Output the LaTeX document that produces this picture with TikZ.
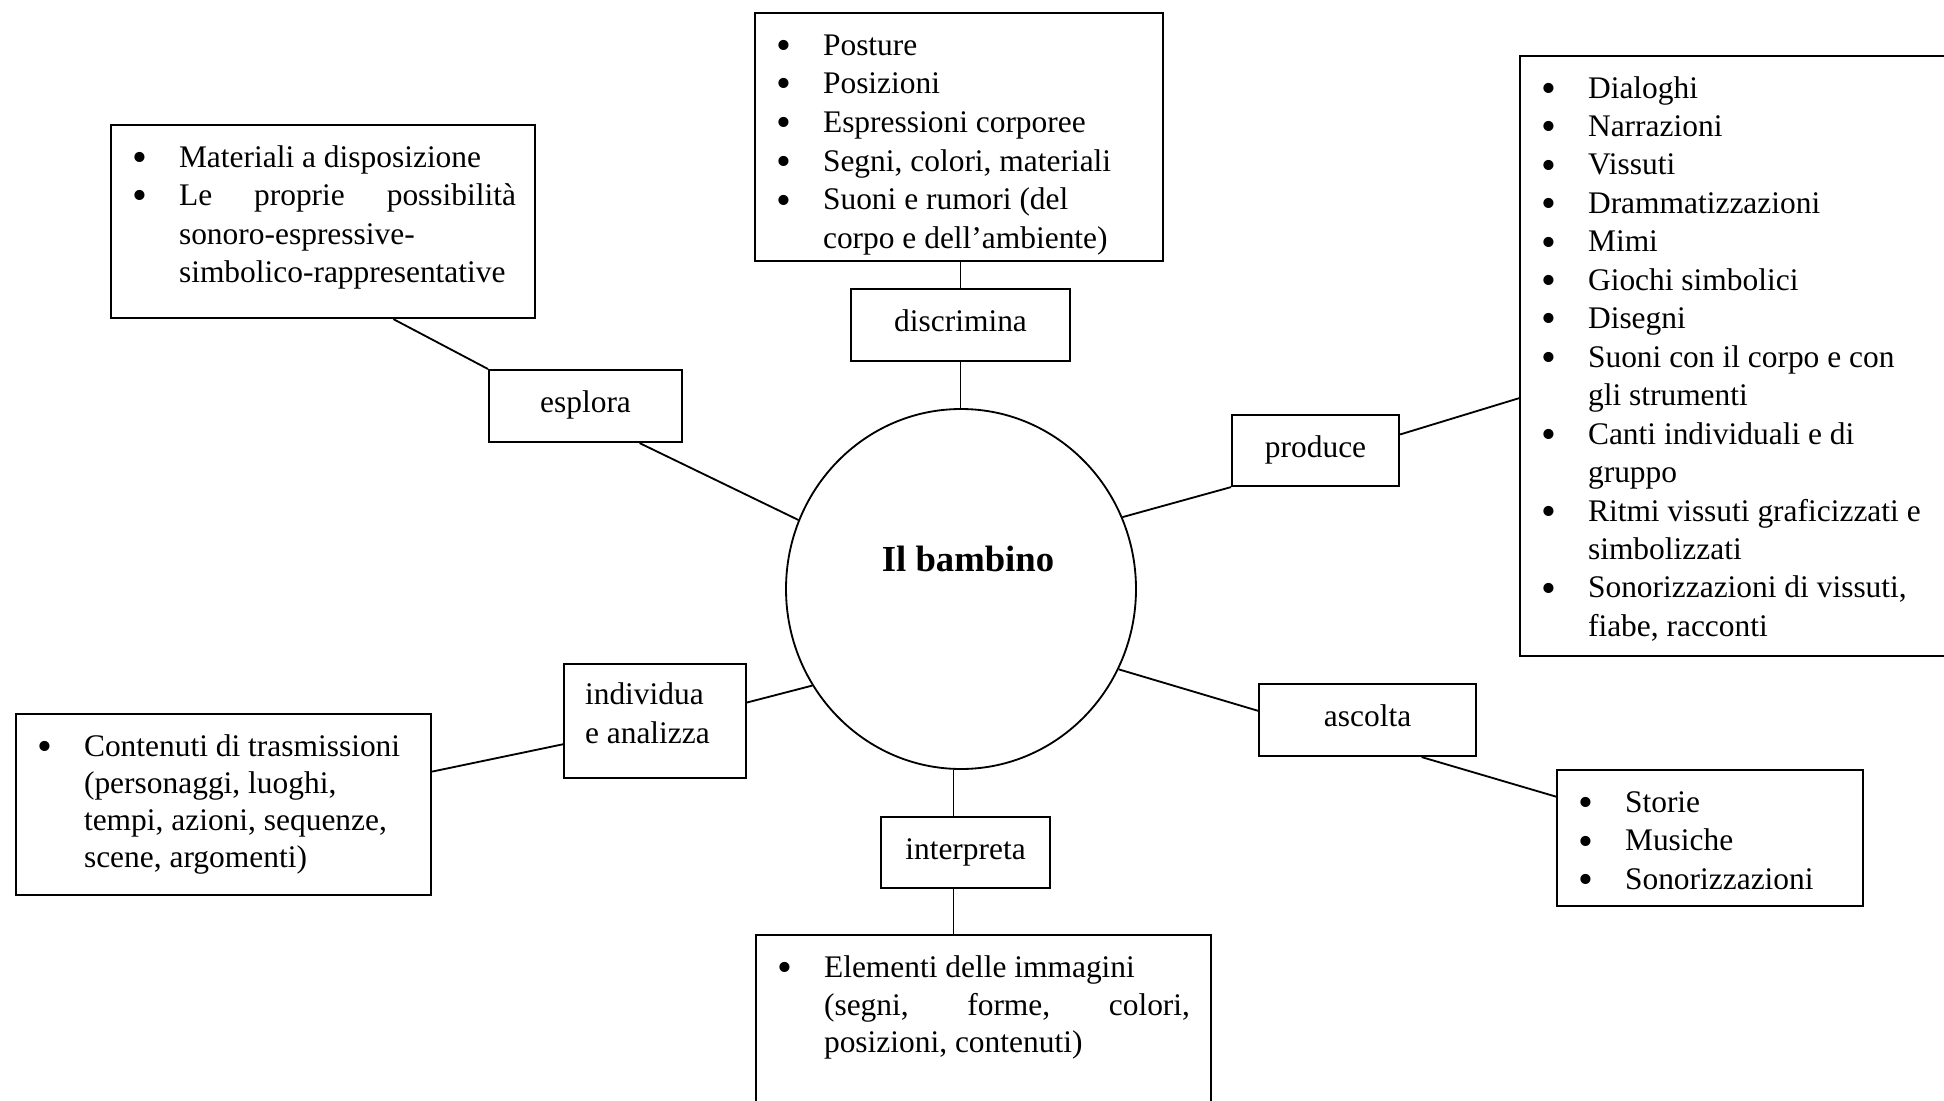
\documentclass[tikz,border=0pt]{standalone}
\usepackage{fontspec}
\setmainfont{Liberation Serif}
\usetikzlibrary{calc,shapes.geometric}
\newlength\pxu \setlength\pxu{0.3817pt}
\newlength\bind \setlength\bind{21\pxu}
\newlength\tind \setlength\tind{68\pxu}
\newcommand\bulletmark{\raisebox{-1.6pt}{\scalebox{1.35}{\textbullet}}}
\newcommand\bl[1]{\hbox to \hsize{\rule{0pt}{22\pxu}\makebox[\tind][l]{\hspace{\bind}\bulletmark}#1\hfil}}
\newcommand\cl[1]{\hbox to \hsize{\rule{0pt}{22\pxu}\hspace{\tind}#1\hfil}}
\newcommand\pl[1]{\hbox to \hsize{\rule{0pt}{22\pxu}\hspace{21\pxu}#1\hfil}}
\newcommand\listbox[5]{\parbox[c][#2\pxu][t]{#1\pxu}{\fontsize{12}{14.7}\selectfont\baselineskip=#4\pxu\vspace*{#3\pxu}#5}}
\begin{document}
\begin{tikzpicture}[x=0.3817pt,y=-0.3817pt,
  box/.style={draw, line width=0.8pt, inner sep=0pt, anchor=north west},
  tag/.style={box, font=\fontsize{12}{14.7}\selectfont, text height=8.5pt, text depth=3.5pt},
  wire/.style={line width=0.7pt}]
\useasboundingbox (0,0) rectangle (1944,1100);
\fill[white] (0,0) rectangle (1944,1100);

% centre
\node[ellipse, draw, line width=0.7pt, inner sep=0pt, minimum width=350*\pxu, minimum height=360*\pxu] (kid) at (961,589) {};
\node[font=\fontsize{14}{16}\selectfont\bfseries] (kidtext) at (968,559) {Il bambino};

% list boxes
\node[box] (mat) at (110,124) {\listbox{424}{193}{20}{38.5}{%
  \bl{Materiali a disposizione}%
  \bl{\makebox[337\pxu][s]{Le proprie possibilità}}%
  \cl{sonoro-espressive-}%
  \cl{simbolico-rappresentative}}};

\node[box] (post) at (754,12) {\listbox{408}{248}{20}{38.7}{%
  \bl{Posture}%
  \bl{Posizioni}%
  \bl{Espressioni corporee}%
  \bl{Segni, colori, materiali}%
  \bl{Suoni e rumori (del}%
  \cl{corpo e dell’ambiente)}}};

\node[box] (dial) at (1519,55) {\listbox{445}{600}{20}{38.45}{%
  \bl{Dialoghi}%
  \bl{Narrazioni}%
  \bl{Vissuti}%
  \bl{Drammatizzazioni}%
  \bl{Mimi}%
  \bl{Giochi simbolici}%
  \bl{Disegni}%
  \bl{Suoni con il corpo e con}%
  \cl{gli strumenti}%
  \bl{Canti individuali e di}%
  \cl{gruppo}%
  \bl{Ritmi vissuti graficizzati e}%
  \cl{simbolizzati}%
  \bl{Sonorizzazioni di vissuti,}%
  \cl{fiabe, racconti}}};

\node[box] (stor) at (1556,769) {\listbox{306}{136}{20}{38.8}{%
  \bl{Storie}%
  \bl{Musiche}%
  \bl{Sonorizzazioni}}};

\node[box] (elem) at (755,934) {\listbox{455}{180}{20.5}{37.5}{%
  \bl{Elementi delle immagini}%
  \cl{\makebox[366\pxu][s]{(segni, forme, colori,}}%
  \cl{posizioni, contenuti)}}};

\node[box] (cont) at (15,713) {\listbox{415}{181}{20}{37}{%
  \bl{Contenuti di trasmissioni}%
  \cl{(personaggi, luoghi,}%
  \cl{tempi, azioni, sequenze,}%
  \cl{scene, argomenti)}}};

% verb boxes
\node[tag, minimum width=219*\pxu, minimum height=72*\pxu] (disc) at (850,288) {discrimina};
\node[tag, minimum width=193*\pxu, minimum height=72*\pxu] (espl) at (488,369) {esplora};
\node[tag, minimum width=167*\pxu, minimum height=71*\pxu] (prod) at (1231,414) {produce};
\node[tag, minimum width=217*\pxu, minimum height=72*\pxu] (asc) at (1258,683) {ascolta};
\node[tag, minimum width=169*\pxu, minimum height=71*\pxu] (interp) at (880,816) {interpreta};
\node[box] (indiv) at (563,663) {\listbox{182}{114}{18}{39}{%
  \pl{individua}%
  \pl{e analizza}}};

% connectors
\draw[wire] ($(mat.south west)!0.665!(mat.south east)$) -- (espl.north west);
\draw[wire] ($(espl.south west)!0.777!(espl.south east)$) -- (kid.157);
\draw[wire] (disc.north) -- (disc.north |- post.south);
\draw[wire] (disc.south) -- (disc.south |- kid.north);
\draw[wire] (prod.south west) -- (kid.24);
\draw[wire] ($(prod.north east)!0.28!(prod.south east)$) -- ($(dial.north west)!0.57!(dial.south west)$);
\draw[wire] (kid.-27) -- ($(asc.north west)!0.375!(asc.south west)$);
\draw[wire] ($(asc.south west)!0.747!(asc.south east)$) -- ($(stor.north west)!0.2!(stor.south west)$);
\coordinate (ix) at ($(interp.north west)!0.43!(interp.north east)$);
\coordinate (ixb) at ($(interp.south west)!0.43!(interp.south east)$);
\draw[wire] (ix) -- (ix |- kid.south);
\draw[wire] (ixb) -- (ixb |- elem.north);
\draw[wire] (kid.213) -- ($(indiv.north east)!0.34!(indiv.south east)$);
\draw[wire] ($(indiv.north west)!0.7!(indiv.south west)$) -- ($(cont.north east)!0.32!(cont.south east)$);
\end{tikzpicture}
\end{document}
